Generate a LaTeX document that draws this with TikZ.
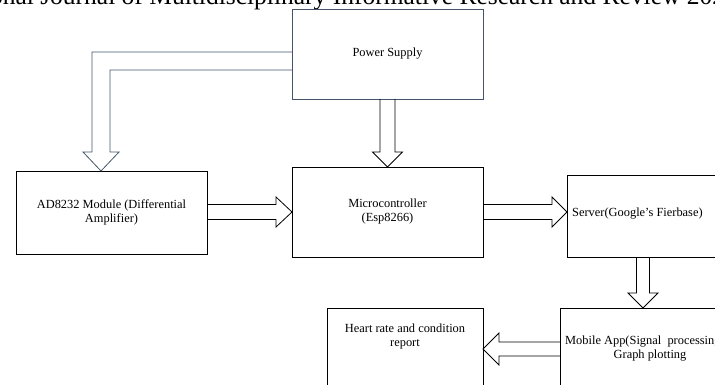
\documentclass[tikz,border=0pt]{standalone}
\usepackage{fontspec}
\setmainfont{Liberation Serif}
\usetikzlibrary{calc}
\definecolor{slate}{RGB}{68,84,106}
\tikzset{
  box/.style={draw=black, line width=0.8pt, inner sep=0pt, outer sep=0pt},
  lbl/.style={font=\fontsize{12.4}{14}\selectfont, align=center, inner sep=0pt},
  blk/.style={draw=black, line width=0.8pt, line join=miter},
}
\begin{document}
\begin{tikzpicture}[x=1pt,y=-1pt]
\useasboundingbox (0,0) rectangle (715,385);
\clip (0,0) rectangle (715,385);
% header (clipped)
\node[font=\fontsize{25.5}{30}\selectfont, anchor=base east, inner sep=0pt] (head) at (738,5) {International Journal of Multidisciplinary Informative Research and Review 2022};
% boxes
\node[box, draw=slate, minimum width=191pt, minimum height=90pt, lbl] (power) at (387.5,54) {Power Supply};
\node[box, minimum width=191pt, minimum height=83pt, lbl] (ad) at (111.5,212.5) {AD8232 Module (Differential\\Amplifier)};
\node[box, minimum width=191pt, minimum height=90pt, lbl] (micro) at (387.5,212) {Microcontroller\\(Esp8266)};
\node[box, minimum width=192pt, minimum height=82pt] (server) at (663,216) {};
\node[lbl, anchor=west] (servert) at (572,214) {Server(Google’s Fierbase)};
\node[box, minimum width=192pt, minimum height=90pt] (mobile) at (656,353) {};
\node[lbl, anchor=west] (mobt1) at (565,342) {Mobile App(Signal\ \ processing};
\node[lbl] (mobt2) at (650,356) {Graph plotting};
\node[box, minimum width=156pt, minimum height=90pt] (heart) at (405,353) {};
\node[lbl] (heartt) at (405,337) {Heart rate and condition\\report};
% helper coordinates
\coordinate (pp) at ($(power.west)+(0,7)$);
\coordinate (adtip) at ($(ad.north west)+(85,0)$);
\coordinate (sv) at ($(server.south west)+(76,0)$);
\coordinate (mb) at ($(mobile.north west)+(83,0)$);
\coordinate (mp) at ($(mobile.north west)+(0,41)$);
% power -> AD8232
\draw[blk, draw=slate] let \p1=(pp), \p2=(adtip) in
  (\x1,\y1+9pt) -- (\x2-9pt,\y1+9pt) -- (\x2-9pt,\y2+19pt) -- (\x2-18pt,\y2+19pt) -- (\x2,\y2)
  -- (\x2+18pt,\y2+19pt) -- (\x2+9pt,\y2+19pt) -- (\x2+9pt,\y1-9pt) -- (\x1,\y1-9pt);
% power -> micro
\draw[blk] let \p1=(power.south), \p2=(micro.north) in
  (\x1-7.5pt,\y1) -- (\x1-7.5pt,\y2+15pt) -- (\x2-15pt,\y2+15pt) -- (\x2,\y2)
  -- (\x2+15pt,\y2+15pt) -- (\x1+7.5pt,\y2+15pt) -- (\x1+7.5pt,\y1);
% AD8232 -> micro
\draw[blk] let \p1=(ad.east), \p2=(micro.west) in
  (\x1,\y2+7.5pt) -- (\x2-16pt,\y2+7.5pt) -- (\x2-16pt,\y2+15pt) -- (\x2,\y2)
  -- (\x2-16pt,\y2-15pt) -- (\x2-16pt,\y2-7.5pt) -- (\x1,\y2-7.5pt);
% micro -> server
\draw[blk] let \p1=(micro.east), \p2=(server.west) in
  (\x1,\y1+7.5pt) -- (\x2-15pt,\y1+7.5pt) -- (\x2-15pt,\y1+15pt) -- (\x2,\y1)
  -- (\x2-15pt,\y1-15pt) -- (\x2-15pt,\y1-7.5pt) -- (\x1,\y1-7.5pt);
% server -> mobile
\draw[blk] let \p1=(sv), \p2=(mb) in
  (\x1-6.5pt,\y1) -- (\x1-6.5pt,\y2+15pt) -- (\x2-15pt,\y2+15pt) -- (\x2,\y2)
  -- (\x2+15pt,\y2+15pt) -- (\x1+6.5pt,\y2+15pt) -- (\x1+6.5pt,\y1);
% mobile -> heart
\draw[blk] let \p1=(mp), \p2=(heart.east) in
  (\x1,\y1+7pt) -- (\x2+16pt,\y1+7pt) -- (\x2+16pt,\y1+16pt) -- (\x2,\y1)
  -- (\x2+16pt,\y1-16pt) -- (\x2+16pt,\y1-7pt) -- (\x1,\y1-7pt);
\end{tikzpicture}
\end{document}
